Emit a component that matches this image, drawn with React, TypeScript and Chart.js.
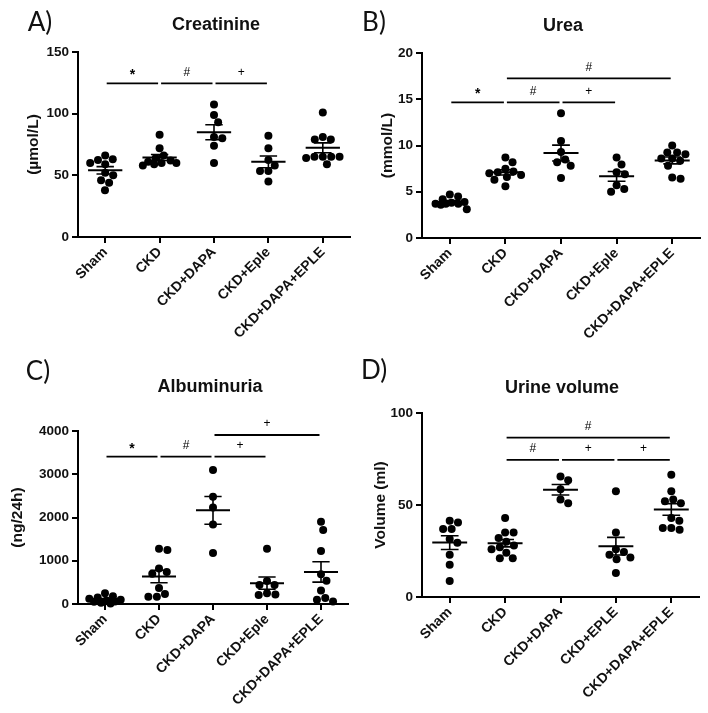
import React, { useEffect, useRef } from "react";
import { Chart, registerables } from "chart.js";

Chart.register(...registerables);

// ---------- DATA ----------
const categoriesABC = ["Sham", "CKD", "CKD+DAPA", "CKD+Eple", "CKD+DAPA+EPLE"];
const categoriesD = ["Sham", "CKD", "CKD+DAPA", "CKD+EPLE", "CKD+DAPA+EPLE"];

// A) Creatinine (µmol/L)
const creatSham = [66, 63, 62.5, 60, 59, 52, 50, 46, 44, 38];
const creatCKD = [83, 72, 66, 64, 62, 61, 60, 60, 59, 58];
const creatDAPA = [107.5, 99, 93, 81, 80, 74, 60];
const creatEple = [82, 72, 62.5, 58, 53.5, 53.5, 45];
const creatDapaEple = [101, 81, 79, 79, 65, 65, 65, 65, 64, 59];
const creatTicks = [0, 50, 100, 150];
const creatSig = [
  { from: 0, to: 1, y: 124.6, label: "*" },
  { from: 1, to: 2, y: 124.6, label: "#" },
  { from: 2, to: 3, y: 124.6, label: "+" },
];

// B) Urea (mmol/L)
const ureaSham = [4.7, 4.5, 4.2, 3.9, 3.8, 3.7, 3.7, 3.7, 3.6, 3.1];
const ureaCKD = [8.7, 8.2, 7.5, 7.2, 7.1, 7.0, 6.8, 6.6, 6.3, 5.6];
const ureaDAPA = [13.5, 10.5, 9.3, 8.5, 8.2, 7.8, 6.5];
const ureaEple = [8.7, 7.95, 7.1, 6.9, 5.7, 5.3, 5.0];
const ureaDapaEple = [10, 9.25, 9.25, 9.05, 8.6, 8.6, 8.35, 7.8, 6.55, 6.4];
const ureaTicks = [0, 5, 10, 15, 20];
const ureaSig = [
  { from: 0, to: 1, y: 14.67, label: "*" },
  { from: 1, to: 2, y: 14.67, label: "#" },
  { from: 2, to: 3, y: 14.67, label: "+" },
  { from: 1, to: 4, y: 17.26, label: "#" },
];

// C) Albuminuria (ng/24h)
const albSham = [250, 180, 150, 120, 100, 80, 60, 50, 30, 10];
const albCKD = [1280, 1250, 820, 740, 700, 370, 230, 170, 170];
const albDAPA = [3100, 2480, 2230, 1840, 1180];
const albEple = [1280, 530, 440, 440, 250, 220, 210];
const albDapaEple = [1900, 1710, 1225, 690, 540, 310, 140, 100, 60];
const albTicks = [0, 1000, 2000, 3000, 4000];
const albSig = [
  { from: 0, to: 1, y: 3406, label: "*" },
  { from: 1, to: 2, y: 3406, label: "#" },
  { from: 2, to: 3, y: 3406, label: "+" },
  { from: 2, to: 4, y: 3907, label: "+" },
];

// D) Urine volume (ml)
const urineSham = [41.5, 40.5, 37, 37, 31.5, 29.5, 23, 17.5, 8.7];
const urineCKD = [43, 35, 35, 32, 30, 28, 27, 26, 24, 21, 21];
const urineDAPA = [65.5, 63.5, 58.5, 53, 51];
const urineEPLE = [57.5, 35, 26, 24.5, 23, 21.5, 20.5, 13];
const urineDapaEple = [66.5, 57.5, 53, 52, 51, 43, 41.5, 37.5, 37.5, 36.5];
const urineTicks = [0, 50, 100];
const urineSig = [
  { from: 1, to: 2, y: 74.5, label: "#" },
  { from: 2, to: 3, y: 74.5, label: "+" },
  { from: 3, to: 4, y: 74.5, label: "+" },
  { from: 1, to: 4, y: 86.6, label: "#" },
];

// ---------- LAYOUT ----------
const FONT = "'Liberation Sans', Arial, sans-serif";

type Sig = { from: number; to: number; y: number; label: string };
type PanelSpec = {
  x: number; y: number; w: number; h: number;
  areaLeft: number; areaRight: number; areaTop: number; areaBottom: number;
  titleLeft: number;
  categories: string[];
  groups: number[][];
  ticks: number[];
  yTitle: string;
  sig: Sig[];
};

const panels: PanelSpec[] = [
  {
    x: 0, y: 0, w: 354, h: 355, areaLeft: 78, areaRight: 354, areaTop: 52, areaBottom: 237, titleLeft: 20,
    categories: categoriesABC,
    groups: [creatSham, creatCKD, creatDAPA, creatEple, creatDapaEple],
    ticks: creatTicks, yTitle: "(µmol/L)", sig: creatSig,
  },
  {
    x: 354, y: 0, w: 354, h: 355, areaLeft: 68, areaRight: 346, areaTop: 53, areaBottom: 238, titleLeft: 20,
    categories: categoriesABC,
    groups: [ureaSham, ureaCKD, ureaDAPA, ureaEple, ureaDapaEple],
    ticks: ureaTicks, yTitle: "(mmol/L)", sig: ureaSig,
  },
  {
    x: 0, y: 355, w: 354, h: 358, areaLeft: 78, areaRight: 348, areaTop: 76, areaBottom: 249, titleLeft: 4,
    categories: categoriesABC,
    groups: [albSham, albCKD, albDAPA, albEple, albDapaEple],
    ticks: albTicks, yTitle: "(ng/24h)", sig: albSig,
  },
  {
    x: 354, y: 355, w: 354, h: 358, areaLeft: 68, areaRight: 345, areaTop: 58, areaBottom: 242, titleLeft: 13,
    categories: categoriesD,
    groups: [urineSham, urineCKD, urineDAPA, urineEPLE, urineDapaEple],
    ticks: urineTicks, yTitle: "Volume (ml)", sig: urineSig,
  },
];

const labels = [
  { text: "A)", x: 40, y: 21, title: "Creatinine", tx: 216, ty: 24 },
  { text: "B)", x: 374, y: 21, title: "Urea", tx: 563, ty: 25 },
  { text: "C)", x: 38, y: 370, title: "Albuminuria", tx: 210, ty: 386 },
  { text: "D)", x: 374, y: 369, title: "Urine volume", tx: 562, ty: 387 },
];

// beeswarm layout (pixel space), limited width -> returns category-unit offsets
function swarm(values: number[], center: number, catPx: number, ppu: number, diam: number, maxOff: number) {
  const placed: { x: number; y: number }[] = [];
  const order = values.map((_, i) => i).sort((a, b) => values[b] - values[a]);
  const out: { x: number; y: number }[] = new Array(values.length);
  for (const i of order) {
    const y = values[i] * ppu;
    const cands: number[] = [0];
    for (const p of placed) {
      const dy = Math.abs(p.y - y);
      if (dy < diam) {
        const dx = Math.sqrt(diam * diam - dy * dy);
        cands.push(p.x + dx, p.x - dx);
      }
    }
    const valid = cands.filter((c) => Math.abs(c) <= maxOff);
    valid.sort((a, b) => Math.abs(a) - Math.abs(b));
    let chosen: number | null = null;
    for (const c of valid) {
      if (placed.every((p) => (p.x - c) ** 2 + (p.y - y) ** 2 >= diam * diam - 1e-6)) {
        chosen = c;
        break;
      }
    }
    if (chosen === null) {
      // no free slot: pick the position with the largest clearance
      let best = 0;
      let bestD = -1;
      for (let c = -maxOff; c <= maxOff; c += 0.5) {
        const d = Math.min(...placed.map((p) => (p.x - c) ** 2 + (p.y - y) ** 2));
        if (d > bestD) {
          bestD = d;
          best = c;
        }
      }
      chosen = best;
    }
    placed.push({ x: chosen, y });
    out[i] = { x: center + chosen / catPx, y: values[i] };
  }
  return out;
}

function mean(a: number[]) {
  return a.reduce((s, v) => s + v, 0) / a.length;
}
function sem(a: number[]) {
  const m = mean(a);
  const v = a.reduce((s, x) => s + (x - m) ** 2, 0) / (a.length - 1);
  return Math.sqrt(v) / Math.sqrt(a.length);
}

function makeSigPlugin(sig: Sig[]) {
  return {
    id: "sigbars",
    afterDatasetsDraw(chart: any) {
      const { ctx } = chart;
      const xs = chart.scales.x;
      const ys = chart.scales.y;
      ctx.save();
      ctx.strokeStyle = "#000";
      ctx.fillStyle = "#000";
      ctx.lineWidth = 1.8;
      for (const b of sig) {
        const x1 = xs.getPixelForValue(b.from) + 1.5;
        const x2 = xs.getPixelForValue(b.to) - 1.5;
        const y = ys.getPixelForValue(b.y);
        ctx.beginPath();
        ctx.moveTo(x1, y);
        ctx.lineTo(x2, y);
        ctx.stroke();
        const star = b.label === "*";
        ctx.font = `${star ? "bold " : ""}${star ? 14 : 12}px ${FONT}`;
        ctx.textAlign = "center";
        ctx.textBaseline = "middle";
        ctx.fillText(b.label, (x1 + x2) / 2, y - 11 + (star ? 3 : 0));
      }
      ctx.restore();
    },
  };
}

function Panel({ spec }: { spec: PanelSpec }) {
  const ref = useRef<HTMLCanvasElement>(null);
  useEffect(() => {
    const catPx = (spec.areaRight - spec.areaLeft) / spec.categories.length;
    const yMax = spec.ticks[spec.ticks.length - 1];
    const ppu = (spec.areaBottom - spec.areaTop) / yMax;

    const points: { x: number; y: number }[] = [];
    const means: any[] = [];
    const sems: any[] = [];
    spec.groups.forEach((g, i) => {
      points.push(...swarm(g, i, catPx, ppu, 8.5, 17));
      const m = mean(g);
      const s = sem(g);
      means.push({ x: i - 0.315, y: m }, { x: i + 0.315, y: m }, { x: i + 0.4, y: null });
      sems.push(
        { x: i, y: m - s }, { x: i, y: m + s }, { x: i + 0.4, y: null },
        { x: i - 0.16, y: m + s }, { x: i + 0.16, y: m + s }, { x: i + 0.4, y: null },
        { x: i - 0.16, y: m - s }, { x: i + 0.16, y: m - s }, { x: i + 0.4, y: null },
      );
    });

    const tickFont = { family: FONT, size: 13.5, weight: "bold" as const };
    const chart = new Chart(ref.current!, {
      type: "scatter",
      data: {
        datasets: [
          {
            data: points,
            pointRadius: 4,
            pointHoverRadius: 4,
            backgroundColor: "#000",
            borderWidth: 0,
            clip: false as any,
          },
          {
            data: means,
            showLine: true,
            spanGaps: false,
            borderColor: "#000",
            borderWidth: 2,
            pointRadius: 0,
            clip: false as any,
          },
          {
            data: sems,
            showLine: true,
            spanGaps: false,
            borderColor: "#000",
            borderWidth: 1.6,
            pointRadius: 0,
            clip: false as any,
          },
        ],
      },
      options: {
        responsive: false,
        animation: false,
        devicePixelRatio: 1,
        events: [],
        layout: {
          padding: { left: spec.titleLeft, right: spec.w - spec.areaRight, top: spec.areaTop, bottom: 0 },
        },
        plugins: { legend: { display: false }, tooltip: { enabled: false }, title: { display: false } },
        scales: {
          x: {
            type: "linear",
            min: -0.5,
            max: spec.categories.length - 0.5,
            afterBuildTicks: (s: any) => {
              s.ticks = spec.categories.map((_, i) => ({ value: i }));
            },
            afterFit: (s: any) => {
              s.height = spec.h - spec.areaBottom;
            },
            ticks: {
              callback: (v: any) => spec.categories[v as number],
              minRotation: 45,
              maxRotation: 45,
              autoSkip: false,
              color: "#111",
              font: { family: FONT, size: 14, weight: "bold" as const },
              padding: 1,
            },
            grid: { drawOnChartArea: false, drawTicks: true, tickLength: 6, color: "#000", lineWidth: 2 },
            border: { display: true, color: "#000", width: 2 },
          },
          y: {
            type: "linear",
            min: 0,
            max: yMax,
            afterBuildTicks: (s: any) => {
              s.ticks = spec.ticks.map((v) => ({ value: v }));
            },
            afterFit: (s: any) => {
              s.width = spec.areaLeft - spec.titleLeft;
            },
            ticks: { color: "#111", font: tickFont, padding: 3, callback: (v: any) => String(v) },
            grid: { drawOnChartArea: false, drawTicks: true, tickLength: 6, color: "#000", lineWidth: 2 },
            border: { display: true, color: "#000", width: 2 },
            title: {
              display: true,
              text: spec.yTitle,
              color: "#111",
              font: { family: FONT, size: 15.5, weight: "bold" },
              padding: { top: 4, bottom: 4 },
            },
          },
        },
      },
      plugins: [makeSigPlugin(spec.sig)],
    });
    return () => chart.destroy();
  }, []);
  return (
    <canvas
      ref={ref}
      width={spec.w}
      height={spec.h}
      style={{ position: "absolute", left: spec.x, top: spec.y, width: spec.w, height: spec.h }}
    />
  );
}

export default function App() {
  return (
    <div
      style={{
        position: "absolute",
        left: 0,
        top: 0,
        width: 708,
        height: 713,
        background: "#fff",
        overflow: "hidden",
      }}
    >
      {panels.map((p, i) => (
        <Panel key={i} spec={p} />
      ))}
      {labels.map((l, i) => (
        <React.Fragment key={i}>
          <div
            style={{
              position: "absolute",
              left: l.x,
              top: l.y,
              transform: "translate(-50%, -50%)",
              fontFamily: "Lato, 'Open Sans', sans-serif",
              fontSize: 26,
              lineHeight: 1,
              color: "#111",
              whiteSpace: "nowrap",
            }}
          >
            {l.text}
          </div>
          <div
            style={{
              position: "absolute",
              left: l.tx,
              top: l.ty,
              transform: "translate(-50%, -50%)",
              fontFamily: FONT,
              fontWeight: "bold",
              fontSize: 18,
              lineHeight: 1,
              color: "#111",
              whiteSpace: "nowrap",
            }}
          >
            {l.title}
          </div>
        </React.Fragment>
      ))}
    </div>
  );
}
